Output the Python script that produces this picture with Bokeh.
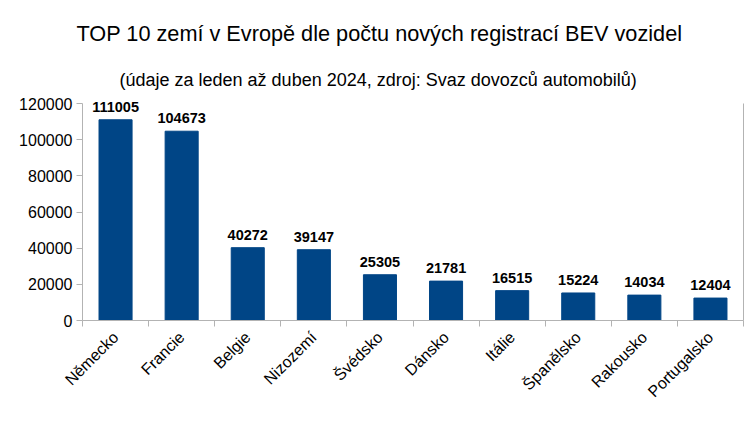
import numpy as np
from bokeh.plotting import figure
from bokeh.models import (ColumnDataSource, FixedTicker, LinearAxis, Title,
                          BasicTickFormatter, Range1d, LabelSet)
from bokeh.core.properties import value
from bokeh.embed import file_html
from bokeh.resources import INLINE

countries = ["Německo", "Francie", "Belgie", "Nizozemí", "Švédsko",
             "Dánsko", "Itálie", "Španělsko", "Rakousko", "Portugalsko"]
registrations = [111005, 104673, 40272, 39147, 25305, 21781, 16515, 15224, 14034, 12404]
y_ticks = [0, 20000, 40000, 60000, 80000, 100000, 120000]
y_max = 120000
title_text = "TOP 10 zemí v Evropě dle počtu nových registrací BEV vozidel"
subtitle_text = "(údaje za leden až duben 2024, zdroj: Svaz dovozců automobilů)"

FONT = "Liberation Sans"
BAR = "#004586"
AXIS = "#b3b3b3"

pos = np.arange(len(countries)) + 0.5
src = ColumnDataSource(dict(x=pos, top=registrations,
                            lbl=[str(v) for v in registrations]))

# frame is 220 px tall; axis line bounded to 0..120000 (217 px)
p = figure(width=756, height=427, output_backend="svg", toolbar_location=None,
           x_range=Range1d(0, len(countries)), y_range=Range1d(0, y_max * 220 / 217),
           min_border_left=82, min_border_right=13, min_border_top=100,
           min_border_bottom=107)
p.outline_line_color = None
p.grid.visible = False

p.vbar(x="x", top="top", width=0.5, source=src, color=BAR)
p.add_layout(LabelSet(x="x", y="top", text="lbl", source=src, text_align="center",
                      text_baseline="alphabetic", y_offset=8, text_font=value(FONT),
                      text_font_size="14.5px", text_font_style="bold",
                      text_color="#000000"))

xa = p.xaxis[0]
xa.ticker = FixedTicker(ticks=list(pos), minor_ticks=list(range(len(countries) + 1)))
xa.major_label_overrides = {float(v): c for v, c in zip(pos, countries)}
xa.major_label_orientation = np.pi / 4
xa.major_tick_line_color = None
xa.minor_tick_line_color = AXIS
xa.minor_tick_in = 0
xa.minor_tick_out = 6
xa.axis_line_color = AXIS
xa.major_label_text_font = FONT
xa.major_label_text_font_size = "16px"
xa.major_label_text_color = "#000000"
xa.major_label_standoff = 8

ya = p.yaxis[0]
ya.ticker = FixedTicker(ticks=y_ticks)
ya.bounds = (0, y_max)
ya.formatter = BasicTickFormatter(use_scientific=False)
ya.major_tick_in = 0
ya.major_tick_out = 6
ya.major_tick_line_color = AXIS
ya.minor_tick_line_color = None
ya.axis_line_color = AXIS
ya.major_label_text_font = FONT
ya.major_label_text_font_size = "16px"
ya.major_label_text_color = "#000000"
ya.major_label_standoff = 4

ra = LinearAxis(major_tick_line_color=None, minor_tick_line_color=None,
                major_label_text_font_size="0px", axis_line_color=AXIS,
                ticker=FixedTicker(ticks=[]), bounds=(0, y_max))
p.add_layout(ra, "right")

p.add_layout(Title(text=subtitle_text, align="left", offset=37,
                   text_font=FONT, text_font_size="18px", text_font_style="normal",
                   text_color="#000000", standoff=22), "above")
p.add_layout(Title(text=title_text, align="left", offset=-6,
                   text_font=FONT, text_font_size="21.7px", text_font_style="normal",
                   text_color="#000000", standoff=22), "above")

open("out.html", "w").write(file_html(p, INLINE))
